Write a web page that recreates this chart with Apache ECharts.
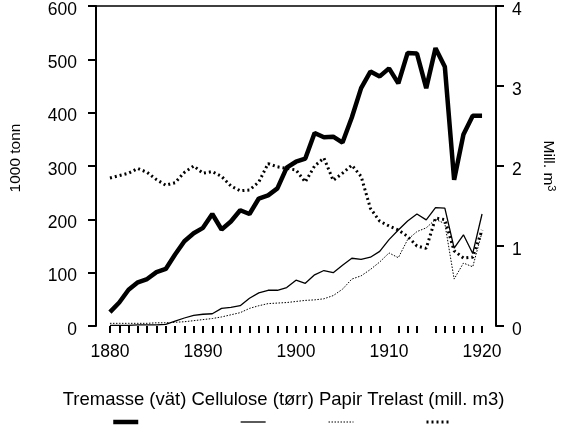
<!DOCTYPE html>
<html>
<head>
<meta charset="utf-8">
<script src="https://cdn.jsdelivr.net/npm/echarts@6/dist/echarts.min.js"></script>
<style>html,body{margin:0;padding:0;background:#fff}#c{width:567px;height:428px}</style>
</head>
<body>
<div id="c"></div>
<script>
// Years shown on the category axis (half a slot of padding each side)
const axisYears = [];
for (let y = 1879; y <= 1921; y++) axisYears.push(String(y));
const years = [1880,1881,1882,1883,1884,1885,1886,1887,1888,1889,1890,1891,1892,1893,1894,1895,1896,1897,1898,1899,1900,1901,1902,1903,1904,1905,1906,1907,1908,1909,1910,1911,1912,1913,1914,1915,1916,1917,1918,1919,1920];
const tickLabels = ['1880','1890','1900','1910','1920'];
const noTickYears = ['1879','1910','1914','1921'];

const tremasse = [26,44,68,82,88,101,107,134,159,174,184,210,181,196,217,210,239,245,258,297,308,314,362,354,355,344,391,446,477,468,483,455,512,511,446,521,486,274,359,394,394];
const cellulose = [1,1,1,2,2,2,3,9,15,20,22,23,33,35,38,52,62,67,67,72,86,80,96,104,100,114,127,125,129,140,162,180,197,210,199,222,221,146,171,136,210];
const papir = [5,5,5,5,5,6,6,7,8,10,12,14,17,21,25,33,38,42,43,44,46,48,49,51,57,69,88,94,106,120,137,128,162,177,184,200,192,88,118,111,176];
const trelast = [1.85,1.88,1.91,1.97,1.92,1.83,1.76,1.79,1.92,2.00,1.91,1.93,1.87,1.75,1.69,1.70,1.80,2.03,1.99,1.97,1.95,1.80,2.00,2.10,1.82,1.91,2.01,1.87,1.47,1.31,1.25,1.20,1.12,1.00,0.97,1.35,1.33,0.94,0.85,0.86,1.20];

const names = ['Tremasse (vät)', 'Cellulose (tørr)', 'Papir', 'Trelast (mill. m3)'];
const pairs = arr => years.map((y, i) => [String(y), arr[i]]);

const FONT = "'Liberation Sans', Arial, sans-serif";
const chart = echarts.init(document.getElementById('c'), null, {renderer: 'canvas'});

function legendAt(name, left) {
  return {
    data: [name], left: left, top: 415, padding: 0,
    itemWidth: 25, itemHeight: 14, itemGap: 0,
    itemStyle: {opacity: 0, borderWidth: 0},
    lineStyle: {width: 'inherit'},
    formatter: () => '', textStyle: {fontSize: 1},
    selectedMode: false
  };
}

chart.setOption({
  backgroundColor: '#fff',
  animation: false,
  title: {
    text: names.join(' '),
    left: 'center', top: 390, padding: 0,
    textStyle: {fontFamily: FONT, fontSize: 18.5, fontWeight: 'normal', color: '#000'}
  },
  legend: [
    legendAt(names[0], 111),
    legendAt(names[1], 240),
    legendAt(names[2], 328),
    legendAt(names[3], 425)
  ],
  grid: {left: 92, right: 71, top: 6, bottom: 102, containLabel: false},
  xAxis: [{
    type: 'category',
    data: axisYears,
    boundaryGap: true,
    axisLine: {show: false},
    axisTick: {
      show: true, alignWithLabel: true, length: 7,
      lineStyle: {color: '#000', width: 2},
      interval: (i, v) => noTickYears.indexOf(v) < 0
    },
    axisLabel: {
      interval: (i, v) => tickLabels.indexOf(v) >= 0,
      fontFamily: FONT, fontSize: 17.5, color: '#000', margin: 17
    },
    splitLine: {show: false}
  }, {
    type: 'category',
    data: axisYears,
    position: 'top',
    axisLine: {show: true, onZero: false, lineStyle: {color: '#000', width: 1.5}},
    axisTick: {show: false},
    axisLabel: {show: false},
    splitLine: {show: false}
  }],
  yAxis: [{
    type: 'value', min: 0, max: 600, interval: 100, position: 'left',
    name: '1000 tonn', nameLocation: 'middle', nameGap: 72,
    nameTextStyle: {fontFamily: FONT, fontSize: 15.5, color: '#000', padding: [0, 0, 0, 16]},
    axisLine: {show: true, lineStyle: {color: '#000', width: 2}},
    axisTick: {show: true, length: 8, lineStyle: {color: '#000', width: 2}},
    axisLabel: {fontFamily: FONT, fontSize: 17.5, color: '#000', margin: 19, verticalAlign: 'top', lineHeight: 8},
    splitLine: {show: false}
  }, {
    type: 'value', min: 0, max: 4, interval: 1, position: 'right',
    name: 'Mill. m{s|3}', nameLocation: 'middle', nameGap: 44, nameRotate: -90,
    nameTextStyle: {fontFamily: FONT, fontSize: 15.5, color: '#000',
      rich: {s: {fontFamily: FONT, fontSize: 11, color: '#000', verticalAlign: 'top', padding: [0,0,6,0]}}},
    axisLine: {show: true, lineStyle: {color: '#000', width: 2}},
    axisTick: {show: true, length: 8, lineStyle: {color: '#000', width: 2}},
    axisLabel: {fontFamily: FONT, fontSize: 17.5, color: '#000', margin: 16, verticalAlign: 'top', lineHeight: 8},
    splitLine: {show: false}
  }],
  series: [{
    name: names[0], type: 'line', data: pairs(tremasse),
    symbol: 'none', yAxisIndex: 0,
    lineStyle: {color: '#000', width: 4.5},
    itemStyle: {color: '#000'}
  }, {
    name: names[1], type: 'line', data: pairs(cellulose),
    symbol: 'none', yAxisIndex: 0,
    lineStyle: {color: '#000', width: 1.3},
    itemStyle: {color: '#000'}
  }, {
    name: names[2], type: 'line', data: pairs(papir),
    symbol: 'none', yAxisIndex: 0,
    lineStyle: {color: '#000', width: 1, type: [1.5, 1.5]},
    itemStyle: {color: '#000'}
  }, {
    name: names[3], type: 'line', data: pairs(trelast),
    symbol: 'none', yAxisIndex: 1,
    lineStyle: {color: '#000', width: 3, type: [2, 3]},
    itemStyle: {color: '#000'}
  }]
});
</script>
</body>
</html>
